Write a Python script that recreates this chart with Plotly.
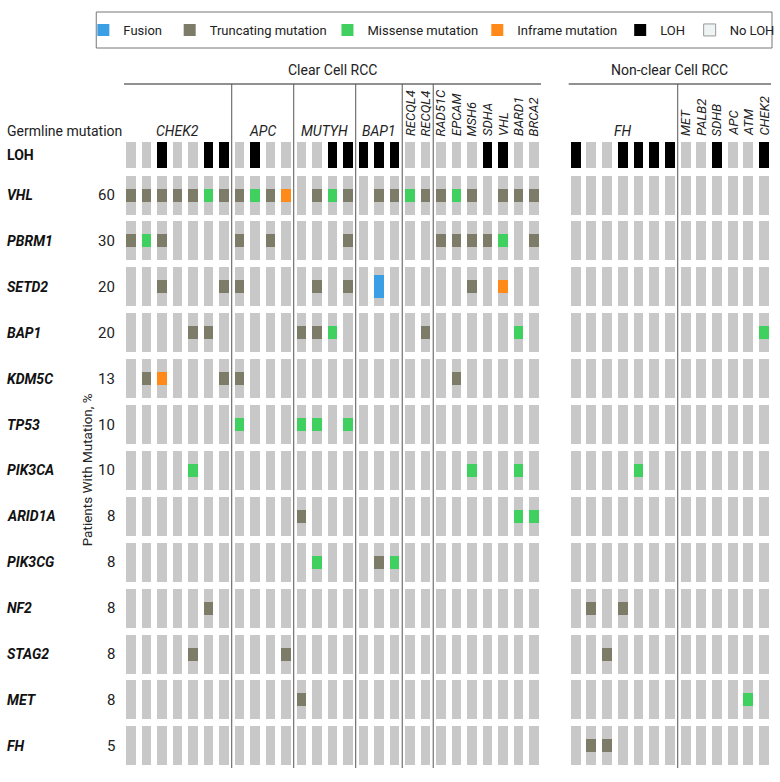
import plotly.graph_objects as go

# ---------------- data ----------------
row_genes = ["VHL", "PBRM1", "SETD2", "BAP1", "KDM5C", "TP53", "PIK3CA",
             "ARID1A", "PIK3CG", "NF2", "STAG2", "MET", "FH"]
row_pct = [60, 30, 20, 20, 13, 10, 10, 8, 8, 8, 8, 8, 5]

# germline blocks (columns) per group
clear_blocks = [["CHEK2"] * 7, ["APC"] * 4, ["MUTYH"] * 4, ["BAP1"] * 3,
                ["RECQL4", "RECQL4"],
                ["RAD51C", "EPCAM", "MSH6", "SDHA", "VHL", "BARD1", "BRCA2"]]
nonclear_blocks = [["FH"] * 7, ["MET", "PALB2", "SDHB", "APC", "ATM", "CHEK2"]]

# LOH status per column (1 = LOH)
loh_clear = [0, 0, 1, 0, 0, 1, 1, 0, 1, 0, 0, 0, 0, 1, 1, 1, 1, 1, 0, 0,
             0, 0, 0, 1, 1, 0, 0]
loh_nonclear = [1, 0, 0, 1, 1, 1, 1, 0, 0, 1, 0, 0, 1]

# somatic alterations: T truncating, M missense, I inframe, F fusion, . none
mut_clear = {
    "VHL":    "TTTTTMT" + "TMTI" + ".TMT" + ".TT" + "MT" + "TMT.TTT",
    "PBRM1":  "TMT...." + "T.T." + "...T" + "..." + ".." + "TTTTM.T",
    "SETD2":  "..T...T" + "T..." + ".T.T" + ".F." + ".." + "..T.I..",
    "BAP1":   "....TT." + "...." + "TTM." + "..." + ".T" + ".....M.",
    "KDM5C":  ".TI...T" + "T..." + "...." + "..." + ".." + ".T.....",
    "TP53":   "......." + "M..." + "MM.M" + "..." + ".." + ".......",
    "PIK3CA": "....M.." + "...." + "...." + "..." + ".." + "..M..M.",
    "ARID1A": "......." + "...." + "T..." + "..." + ".." + ".....MM",
    "PIK3CG": "......." + "...." + ".M.." + ".TM" + ".." + ".......",
    "NF2":    ".....T." + "...." + "...." + "..." + ".." + ".......",
    "STAG2":  "....T.." + "...T" + "...." + "..." + ".." + ".......",
    "MET":    "......." + "...." + "T..." + "..." + ".." + ".......",
    "FH":     "......." + "...." + "...." + "..." + ".." + ".......",
}
mut_nonclear = {
    "VHL":    ".............",
    "PBRM1":  ".............",
    "SETD2":  ".............",
    "BAP1":   "............M",
    "KDM5C":  ".............",
    "TP53":   ".............",
    "PIK3CA": "....M........",
    "ARID1A": ".............",
    "PIK3CG": ".............",
    "NF2":    ".T.T.........",
    "STAG2":  "..T..........",
    "MET":    "...........M.",
    "FH":     ".TT..........",
}

legend_items = [("F", "Fusion"), ("T", "Truncating mutation"),
                ("M", "Missense mutation"), ("I", "Inframe mutation"),
                ("LOH", "LOH"), ("NOLOH", "No LOH")]

# ---------------- styling / layout ----------------
W, H = 780, 782
FONT = "Roboto, Liberation Sans, sans-serif"
GREY = "#c8c8c8"
COLORS = {"T": "#7d7c69", "M": "#40d060", "I": "#ff8a1a", "F": "#3b9fe6",
          "LOH": "#000000", "NOLOH": "#eef4f4"}

PX_COL = 15.62         # px per column
X0_PX = 132            # pixel centre of first column
GAP = 28.69            # position of first non-clear column
NC_STEP = 1.013        # column step in the non-clear group
ROW_PX = 45.9          # px per row
Y1_PX = 195            # pixel centre of first gene row

x_range = [-X0_PX / PX_COL, (W - X0_PX) / PX_COL]
y_top = 1 - Y1_PX / ROW_PX
y_range = [y_top + H / ROW_PX, y_top]


def ypx(p):
    return (p - Y1_PX) / ROW_PX + 1


def xpaper(p):
    return p / W


def ypaper(p):
    return 1 - p / H


bar_w = 10 / PX_COL
gene_h = 39 / ROW_PX
loh_h = 26 / ROW_PX
mark_h = 13 / ROW_PX
fus_h = 23 / ROW_PX
loh_y = 1 - 40 / ROW_PX

# column x positions
clear_cols = [g for b in clear_blocks for g in b]
nonclear_cols = [g for b in nonclear_blocks for g in b]
clear_x = list(range(len(clear_cols)))
nonclear_x = [GAP + j * NC_STEP for j in range(len(nonclear_cols))]
all_x = clear_x + nonclear_x
loh_all = loh_clear + loh_nonclear

fig = go.Figure()

# grey background cells
bx, bb, bh = [], [], []
for i, g in enumerate(row_genes, start=1):
    for x in all_x:
        bx.append(x); bb.append(i - gene_h / 2); bh.append(gene_h)
for x, l in zip(all_x, loh_all):
    if not l:
        bx.append(x); bb.append(loh_y - loh_h / 2); bh.append(loh_h)
fig.add_trace(go.Bar(x=bx, y=bh, base=bb, width=bar_w, marker_color=GREY,
                     marker_line_width=0, showlegend=False, hoverinfo="skip"))

traces = {}
lx = [x for x, l in zip(all_x, loh_all) if l]
traces["LOH"] = go.Bar(x=lx, y=[loh_h] * len(lx),
                       base=[loh_y - loh_h / 2] * len(lx), width=bar_w,
                       marker_color=COLORS["LOH"], marker_line_width=0,
                       name="LOH")
traces["NOLOH"] = go.Bar(x=[None], y=[None], width=bar_w,
                         marker_color=COLORS["NOLOH"],
                         marker_line=dict(color="#9a9a9a", width=1),
                         name="No LOH")
for code in ["F", "T", "M", "I"]:
    xs, bs, hs = [], [], []
    for i, g in enumerate(row_genes, start=1):
        s = mut_clear[g] + mut_nonclear[g]
        for x, c in zip(all_x, s):
            if c == code:
                h = fus_h if code == "F" else mark_h
                xs.append(x); bs.append(i - h / 2); hs.append(h)
    name = dict(legend_items)[code]
    traces[code] = go.Bar(x=xs, y=hs, base=bs, width=bar_w,
                          marker_color=COLORS[code], marker_line_width=0,
                          name=name)

legend_text_px = [122, 209, 368, 519, 663, 733]
legend_layout = {}
for k, ((code, name), lp) in enumerate(zip(legend_items, legend_text_px)):
    tr = traces[code]
    lname = "legend" if k == 0 else f"legend{k + 1}"
    tr.legend = lname
    tr.showlegend = True
    fig.add_trace(tr)
    legend_layout[lname] = dict(x=xpaper(lp - 38), y=ypaper(30), xanchor="left",
                                yanchor="middle", orientation="h",
                                bgcolor="rgba(0,0,0,0)", borderwidth=0,
                                font=dict(family=FONT, size=13, color="#222"))

shapes = []
annotations = []
# legend frame
shapes.append(dict(type="rect", xref="paper", yref="paper",
                   x0=xpaper(97), x1=xpaper(778), y0=ypaper(48), y1=ypaper(12),
                   line=dict(color="#777", width=1)))


def add_group(blocks, xs, title):
    x_first, x_last = xs[0], xs[-1]
    shapes.append(dict(type="line", xref="x", yref="y",
                       x0=x_first - 0.45, x1=x_last + 0.45,
                       y0=ypx(84), y1=ypx(84), line=dict(color="#222", width=1)))
    annotations.append(dict(x=(x_first + x_last) / 2, y=ypx(70), xref="x",
                            yref="y", text=title, showarrow=False,
                            xanchor="center", yanchor="middle",
                            font=dict(family=FONT, size=14, color="#222")))
    idx = 0
    for bi, b in enumerate(blocks):
        bxs = xs[idx:idx + len(b)]
        if len(set(b)) == 1 and len(b) >= 3:
            annotations.append(dict(x=sum(bxs) / len(bxs), y=ypx(131),
                                    xref="x", yref="y", text=f"<i>{b[0]}</i>",
                                    showarrow=False, xanchor="center",
                                    yanchor="middle",
                                    font=dict(family=FONT, size=14, color="#222")))
        else:
            for g, x in zip(b, bxs):
                annotations.append(dict(x=x, y=ypx(138), xref="x", yref="y",
                                        text=f"<i>{g}</i>", textangle=-90,
                                        xanchor="center", yanchor="bottom",
                                        showarrow=False,
                                        font=dict(family=FONT, size=13,
                                                  color="#222")))
        if bi < len(blocks) - 1:
            sx = (bxs[-1] + xs[idx + len(b)]) / 2
            shapes.append(dict(type="line", xref="x", yref="y", x0=sx, x1=sx,
                               y0=ypx(84), y1=ypx(768),
                               line=dict(color="#555", width=1)))
        idx += len(b)


add_group(clear_blocks, clear_x, "Clear Cell RCC")
add_group(nonclear_blocks, nonclear_x, "Non-clear Cell RCC")

# row labels
annotations.append(dict(x=xpaper(5), y=ypx(131), xref="paper", yref="y",
                        text="Germline mutation", xanchor="left",
                        yanchor="middle", showarrow=False,
                        font=dict(family=FONT, size=14, color="#222")))
annotations.append(dict(x=xpaper(5), y=loh_y, xref="paper", yref="y",
                        text="<b>LOH</b>", xanchor="left", yanchor="middle",
                        showarrow=False,
                        font=dict(family=FONT, size=14, color="#111")))
for i, (g, p) in enumerate(zip(row_genes, row_pct), start=1):
    annotations.append(dict(x=xpaper(5), y=i, xref="paper", yref="y",
                            text=f"<b><i>{g}</i></b>", xanchor="left",
                            yanchor="middle", showarrow=False,
                            font=dict(family=FONT, size=14, color="#111")))
    annotations.append(dict(x=xpaper(118), y=i, xref="paper", yref="y",
                            text=str(p), xanchor="right", yanchor="middle",
                            showarrow=False,
                            font=dict(family=FONT, size=15, color="#222")))
annotations.append(dict(x=xpaper(88), y=ypx(470), xref="paper", yref="y",
                        text="Patients With Mutation, %", textangle=-90,
                        xanchor="center", yanchor="middle", showarrow=False,
                        font=dict(family=FONT, size=13.5, color="#222")))

fig.update_layout(
    width=W, height=H, autosize=False,
    margin=dict(l=0, r=0, t=0, b=0),
    paper_bgcolor="white", plot_bgcolor="white",
    barmode="overlay", bargap=0,
    xaxis=dict(range=x_range, visible=False, fixedrange=True),
    yaxis=dict(range=y_range, visible=False, fixedrange=True),
    shapes=shapes, annotations=annotations,
    font=dict(family=FONT),
    **legend_layout,
)

fig.write_html(
    "out.html",
    config={"displayModeBar": False},
    post_script="document.body.style.margin='0';"
                "document.body.style.overflow='hidden';",
)
